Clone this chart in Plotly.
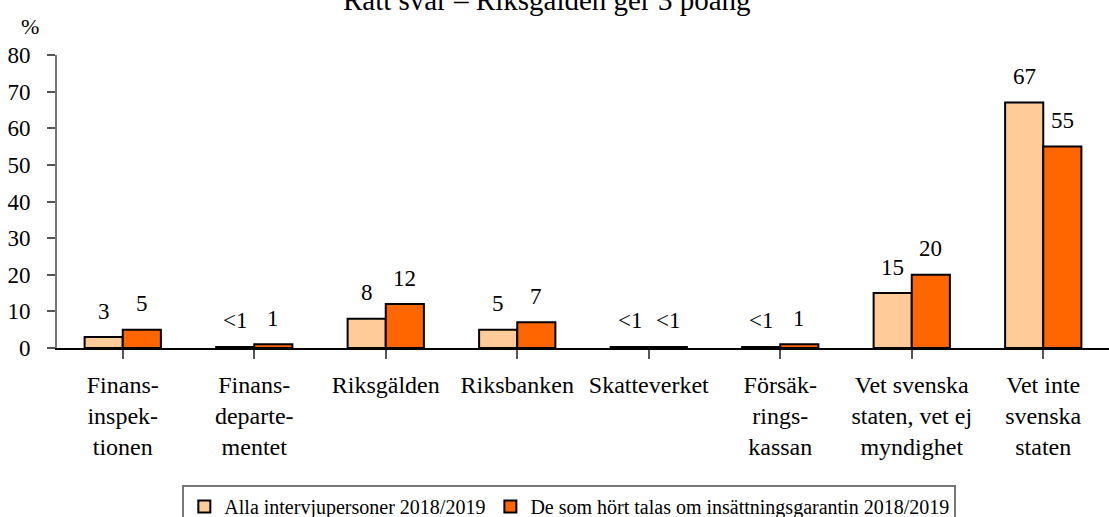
import plotly.graph_objects as go

categories = ["Finans-<br>inspek-<br>tionen", "Finans-<br>departe-<br>mentet", "Riksgälden",
              "Riksbanken", "Skatteverket", "Försäk-<br>rings-<br>kassan",
              "Vet svenska<br>staten, vet ej<br>myndighet", "Vet inte<br>svenska<br>staten"]
series_names = ["Alla intervjupersoner 2018/2019",
                "De som hört talas om insättningsgarantin 2018/2019"]
# "<1" drawn as a sliver
alla_values = [3, 0.3, 8, 5, 0.3, 0.3, 15, 67]
alla_labels = ["3", "<1", "8", "5", "<1", "<1", "15", "67"]
hort_values = [5, 1, 12, 7, 0.3, 1, 20, 55]
hort_labels = ["5", "1", "12", "7", "<1", "1", "20", "55"]

FONT = "Liberation Serif"
x_idx = list(range(len(categories)))

fig = go.Figure()
fig.add_trace(go.Bar(x=x_idx, y=alla_values, name=series_names[0],
                     marker=dict(color="#FFCC99", line=dict(color="black", width=2))))
fig.add_trace(go.Bar(x=x_idx, y=hort_values, name=series_names[1],
                     marker=dict(color="#FF6600", line=dict(color="black", width=2))))

annotations = []
for i in x_idx:
    for vals, labs, shift in [(alla_values, alla_labels, -19), (hort_values, hort_labels, 19)]:
        annotations.append(dict(x=i, y=vals[i], text=labs[i], showarrow=False,
                                xshift=shift, yshift=26, yanchor="middle",
                                font=dict(size=23, color="black", family=FONT)))
# "%" unit label above the y axis
annotations.append(dict(xref="paper", yref="paper", x=(30 - 57) / 1052, y=1 + (55 - 27) / 293,
                        xanchor="center", yanchor="middle", text="%", showarrow=False,
                        font=dict(size=22, color="black", family=FONT)))

fig.update_layout(
    width=1109, height=517,
    margin=dict(l=57, r=0, t=55, b=169, autoexpand=False),
    paper_bgcolor="white", plot_bgcolor="white",
    font=dict(family=FONT, color="black", size=22),
    barmode="group", bargap=0.42, bargroupgap=0,
    title=dict(text="Rätt svar – Riksgälden ger 3 poäng", x=0.493, xanchor="center",
               y=1.0, yref="container", yanchor="middle", automargin=False,
               font=dict(size=29, family=FONT, color="black")),
    xaxis=dict(tickmode="array", tickvals=x_idx, ticktext=categories, range=[-0.5, 7.5],
               showline=True, linecolor="black", linewidth=1.5, automargin=False,
               ticks="outside", ticklen=9, tickcolor="#555", tickwidth=1.5,
               ticklabelstandoff=5,
               tickfont=dict(size=24, family=FONT, color="black"), showgrid=False, zeroline=False),
    yaxis=dict(range=[0, 80], dtick=10, showline=True, linecolor="#777", linewidth=2,
               automargin=False,
               ticks="outside", ticklen=8, tickcolor="#555", tickwidth=1.5,
               ticklabelstandoff=12,
               tickfont=dict(size=23, family=FONT, color="black"), showgrid=False, zeroline=False),
    legend=dict(orientation="h", x=0.487, y=(348 - 485) / 293,
                xanchor="center", yanchor="top", bordercolor="#777", borderwidth=2,
                font=dict(size=20, family=FONT, color="black"), traceorder="normal", itemwidth=30),
    annotations=annotations,
    showlegend=True,
)

# drop the default 8px page margin so the figure sits at the window's corner
fig.write_html("out.html", config={"displayModeBar": False},
               post_script="document.body.style.margin='0';")
